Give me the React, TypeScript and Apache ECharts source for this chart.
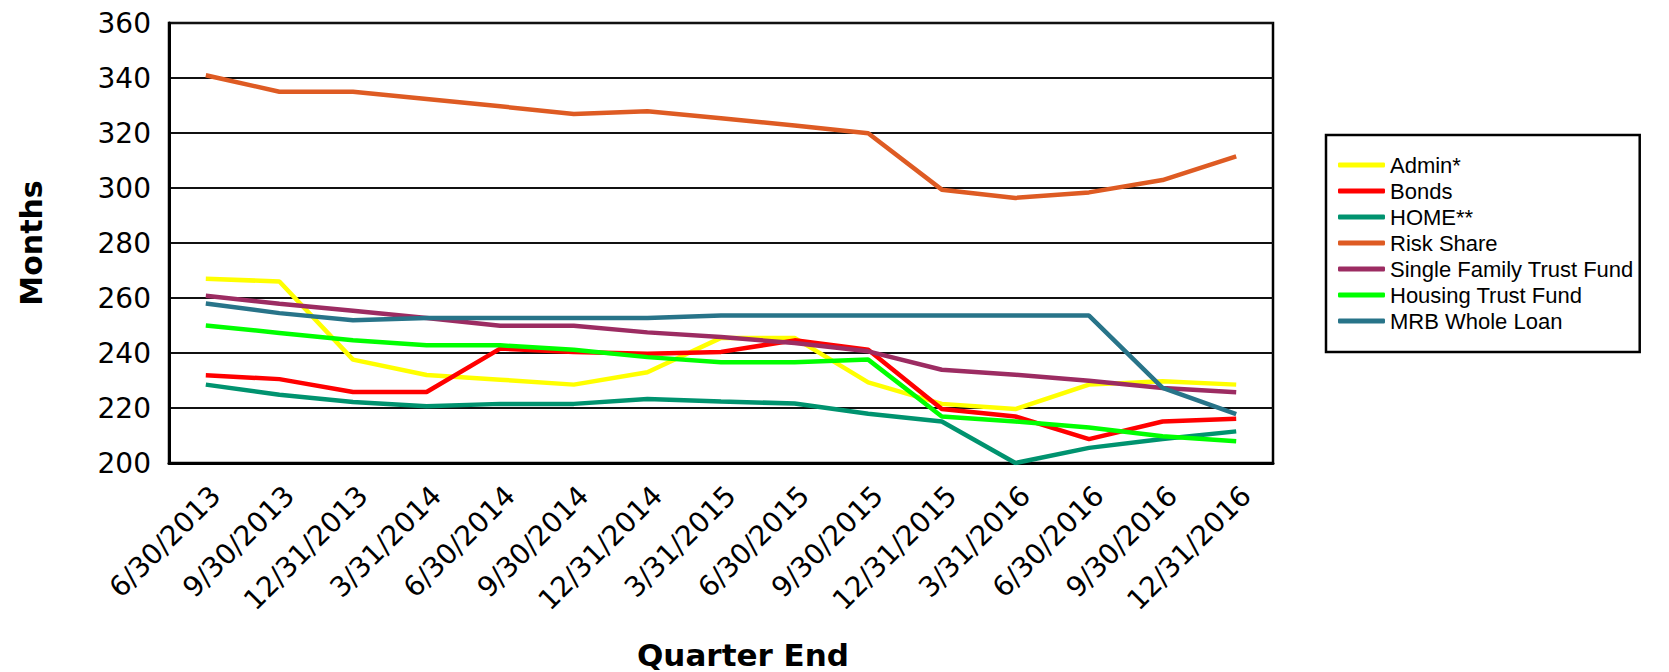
import React, { useEffect, useRef } from "react";
import * as echarts from "echarts";

const categories = [
  "6/30/2013", "9/30/2013", "12/31/2013", "3/31/2014", "6/30/2014", "9/30/2014",
  "12/31/2014", "3/31/2015", "6/30/2015", "9/30/2015", "12/31/2015", "3/31/2016",
  "6/30/2016", "9/30/2016", "12/31/2016",
];

const admin = [267, 266, 237.6, 232, 230.3, 228.5, 233, 245.5, 245.5, 229.3, 221.5, 219.6, 228.5, 229.7, 228.5];
const bonds = [231.9, 230.5, 225.8, 225.8, 241.6, 240.4, 239.7, 240.4, 244.6, 241.2, 219.6, 216.9, 208.7, 215.1, 216.1];
const home = [228.5, 224.8, 222.2, 220.6, 221.5, 221.5, 223.3, 222.4, 221.6, 217.9, 215.1, 200, 205.5, 208.7, 211.5];
const riskShare = [341, 335, 335, 332.4, 329.7, 326.9, 327.9, 325.4, 322.7, 319.9, 299.4, 296.4, 298.4, 302.9, 311.5];
const singleFamily = [260.8, 257.9, 255.4, 252.7, 249.9, 249.9, 247.5, 245.8, 243.6, 240.6, 233.9, 232.1, 229.9, 227.3, 225.7];
const housingTrust = [250, 247.3, 244.6, 242.8, 242.8, 241.2, 238.5, 236.6, 236.6, 237.6, 216.9, 215.1, 212.9, 209.7, 207.9];
const mrbWholeLoan = [258, 254.5, 251.9, 252.7, 252.7, 252.7, 252.7, 253.6, 253.6, 253.6, 253.6, 253.6, 253.6, 227.3, 217.8];

const seriesNames = [
  "Admin*", "Bonds", "HOME**", "Risk Share",
  "Single Family Trust Fund", "Housing Trust Fund", "MRB Whole Loan",
];
const seriesData = [admin, bonds, home, riskShare, singleFamily, housingTrust, mrbWholeLoan];
const seriesColors = ["#FFFF00", "#FF0000", "#00936F", "#DE5B23", "#9C2C62", "#00FF00", "#287489"];

const yMin = 200;
const yMax = 360;
const yStep = 20;

export default function App() {
  const ref = useRef<HTMLDivElement>(null);

  useEffect(() => {
    if (!ref.current) return;
    const chart = echarts.init(ref.current, null, { renderer: "svg" });
    const option: any = {
      animation: false,
      backgroundColor: "#ffffff",
      grid: {
        left: 169,
        top: 23,
        width: 1104,
        height: 440,
        show: true,
        borderColor: "#000",
        borderWidth: 2.5,
        backgroundColor: "transparent",
      },
      legend: {
        orient: "vertical",
        left: 1326,
        top: 135,
        data: seriesNames,
        icon: "roundRect",
        itemWidth: 47,
        itemHeight: 5,
        itemGap: 4,
        padding: [19, 6, 20, 12],
        borderColor: "#000",
        borderWidth: 2.5,
        backgroundColor: "#fff",
        textStyle: {
          fontFamily: "Liberation Sans, Arial, sans-serif",
          fontSize: 22,
          lineHeight: 22,
          color: "#000",
        },
      },
      xAxis: {
        type: "category",
        data: categories,
        boundaryGap: true,
        axisLine: { show: true, lineStyle: { color: "#000", width: 3 } },
        axisTick: { show: false },
        splitLine: { show: false },
        axisLabel: {
          interval: 0,
          rotate: 45,
          margin: 18,
          verticalAlign: "top",
          fontFamily: "DejaVu Sans, sans-serif",
          fontSize: 28,
          color: "#000",
        },
      },
      yAxis: {
        type: "value",
        min: yMin,
        max: yMax,
        interval: yStep,
        axisLine: { show: true, lineStyle: { color: "#000", width: 3 } },
        axisTick: { show: false },
        splitLine: { show: true, lineStyle: { color: "#111", width: 2 } },
        axisLabel: {
          margin: 18,
          fontFamily: "DejaVu Sans, sans-serif",
          fontSize: 28,
          color: "#000",
        },
      },
      graphic: [
        {
          type: "text",
          x: 31,
          y: 243,
          rotation: Math.PI / 2,
          style: {
            text: "Months",
            fontFamily: "DejaVu Sans, sans-serif",
            fontWeight: "bold",
            fontSize: 30,
            fill: "#000",
            textAlign: "center",
            textVerticalAlign: "middle",
          },
        },
        {
          type: "text",
          x: 743,
          y: 655,
          style: {
            text: "Quarter End",
            fontFamily: "DejaVu Sans, sans-serif",
            fontWeight: "bold",
            fontSize: 31,
            lineHeight: 30,
            fill: "#000",
            textAlign: "center",
            textVerticalAlign: "middle",
          },
        },
      ],
      series: seriesNames.map((name, i) => ({
        name,
        type: "line",
        data: seriesData[i],
        symbol: "none",
        showSymbol: false,
        color: seriesColors[i],
        lineStyle: { width: 4.5, color: seriesColors[i] },
        itemStyle: { color: seriesColors[i] },
      })),
    };
    chart.setOption(option);
    return () => chart.dispose();
  }, []);

  return (
    <div
      ref={ref}
      style={{ position: "absolute", left: 0, top: 0, width: 1669, height: 672 }}
    />
  );
}
